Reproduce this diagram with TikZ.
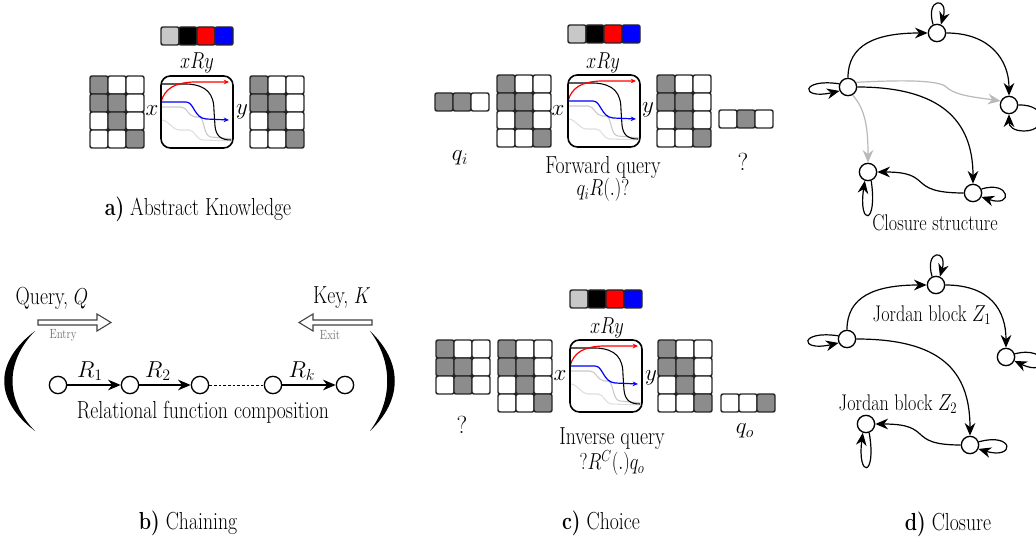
\documentclass[tikz,border=0pt]{standalone}
\usepackage{graphicx}
\usetikzlibrary{arrows.meta}
\definecolor{cgray}{RGB}{140,140,140}
\definecolor{lgray}{RGB}{200,200,200}
\definecolor{llgray}{RGB}{222,222,222}
\definecolor{egray}{RGB}{185,185,185}
\definecolor{cred}{RGB}{255,0,0}
\definecolor{cblue}{RGB}{0,0,255}
\newcommand{\nt}[1]{\scalebox{0.8}[1]{#1}}
\tikzset{
  cell/.style={draw=black!85,line width=1.1pt,rounded corners=1.5pt},
  rbox/.style={draw,line width=1.2pt,rounded corners=7pt},
  txt/.style={font=\fontsize{18.5}{21}\selectfont,inner sep=0pt},
  dtxt/.style={font=\fontsize{17}{19}\selectfont,inner sep=0pt},
  smalltxt/.style={font=\fontsize{10}{11}\selectfont,inner sep=0pt,text=black!55},
  circ/.style={circle,draw,line width=1pt,minimum size=13pt,inner sep=0pt,fill=white},
  arr/.style={-{Stealth[length=9.5pt,width=8pt]},line width=0.9pt},
  garr/.style={arr,draw=egray},
  curv/.style={line width=0.8pt},
  cur/.style={-{Stealth[length=4pt,width=3.5pt]},line width=0.9pt},
  hollow/.style={draw=black!75,line width=0.8pt,fill=white},
}
\newcommand{\gridcells}[3]{\foreach \c/\r/\f in {#3}{\draw[cell,fill=\f] ({#1+18*\c},{#2+18*\r}) rectangle ++(18,18);}}
\newcommand{\relgrid}[2]{\gridcells{#1}{#2}{0/0/cgray,1/0/white,2/0/white,0/1/cgray,1/1/cgray,2/1/white,0/2/white,1/2/cgray,2/2/white,0/3/white,1/3/white,2/3/cgray}}
\newcommand{\colorbar}[2]{\gridcells{#1}{#2}{0/0/lgray,1/0/black,2/0/cred,3/0/cblue}}
\newcommand{\relbox}[2]{%
\begin{scope}[shift={(#1,#2)}]
\draw[curv,draw=llgray] (0,44) .. controls (8,44) and (10,53) .. (18,54) -- (28,54) .. controls (34,54) and (34,63) .. (42,64) -- (72,65);
\draw[curv,draw=lgray] (0,31) -- (20,31) .. controls (26,31) and (27,40) .. (34,41) -- (38,41) .. controls (44,42) and (42,60) .. (50,61) -- (72,63);
\draw[curv,draw=black] (0,8) -- (26,8) .. controls (46,9) and (53,18) .. (53,35) -- (54,50) .. controls (55,60) and (60,64) .. (70,64);
\draw[cur,draw=cred] (0,26) .. controls (4,12) and (14,7) .. (32,6) -- (68,6);
\draw[cur,draw=cblue] (0,26) -- (25,26) .. controls (33,26) and (33,42) .. (45,43) -- (68,44);
\draw[rbox] (0,0) rectangle (72,72);
\end{scope}}
\begin{document}
\begin{tikzpicture}[x=0.75pt,y=-0.75pt]
\useasboundingbox (0,0) rectangle (1036,541);
% ---------- panel a
\colorbar{161}{27}
\node[txt] (axry) at (197,63) {\nt{$xRy$}};
\relgrid{90}{76}
\node[txt] (ax) at (152,111) {$x$};
\relbox{161}{76}
\node[txt] (ay) at (242,112) {$y$};
\relgrid{250}{76}
\node[txt] (acap) at (198,209) {\nt{\textbf{a)} Abstract Knowledge}};
% ---------- panel c top
\colorbar{568}{25}
\node[txt] (cxry1) at (603,63) {\nt{$xRy$}};
\gridcells{435}{93}{0/0/cgray,1/0/cgray,2/0/white}
\relgrid{497}{75}
\node[txt] (cx1) at (558,111) {$x$};
\relbox{568}{75}
\node[txt] (cy1) at (648,110) {$y$};
\relgrid{657}{75}
\gridcells{719}{110}{0/0/white,1/0/cgray,2/0/white}
\node[txt] (cqi) at (460,158) {$q_i$};
\node[txt] (cfq) at (603,167) {\nt{Forward query}};
\node[txt] (cfqm) at (603,190) {\nt{$q_iR(.)?$}};
\node[txt] (cq1) at (743,162) {?};
% ---------- panel c bottom
\colorbar{570}{290}
\node[txt] (cxry2) at (607,328) {\nt{$xRy$}};
\gridcells{436}{340}{0/0/cgray,1/0/white,2/0/white,0/1/cgray,1/1/cgray,2/1/white,0/2/white,1/2/cgray,2/2/white}
\relgrid{498}{340}
\node[txt] (cx2) at (560,376) {$x$};
\relbox{570}{340}
\node[txt] (cy2) at (651,378) {$y$};
\relgrid{658}{340}
\gridcells{721}{394}{0/0/white,1/0/white,2/0/cgray}
\node[txt] (cq2) at (462,425) {?};
\node[txt] (ciq) at (612,439) {\nt{Inverse query}};
\node[txt] (ciqm) at (612,463) {\nt{$?R^C(.)q_o$}};
\node[txt] (cqo) at (745,431) {$q_o$};
% ---------- panel b
\node[txt] (bq) at (52,298) {\nt{Query, $Q$}};
\node[txt] (bk) at (342,298) {\nt{Key, $K$}};
\draw[hollow] (38,320) -- (97,320) -- (97,314) -- (111,322.5) -- (97,331) -- (97,325) -- (38,325) -- cycle;
\draw[hollow] (372,320) -- (313,320) -- (313,314) -- (299,322.5) -- (313,331) -- (313,325) -- (372,325) -- cycle;
\node[smalltxt] (bentry) at (63,335) {\nt{Entry}};
\node[smalltxt] (bexit) at (330,335) {\nt{Exit}};
\fill (35,331) .. controls (-6,362) and (-6,400) .. (35,431) .. controls (5,400) and (5,362) .. (35,331) -- cycle;
\fill (370,331) .. controls (403,362) and (403,400) .. (370,431) .. controls (393,400) and (393,362) .. (370,331) -- cycle;
\node[circ] (b1) at (58,385) {};
\node[circ] (b2) at (130,385) {};
\node[circ] (b3) at (200,385) {};
\node[circ] (b4) at (273,385) {};
\node[circ] (b5) at (345,385) {};
\draw[arr] (b1) -- (b2);
\draw[arr] (b2) -- (b3);
\draw[line width=0.6pt,dash pattern=on 2pt off 1.5pt] (b3) -- (b4);
\draw[arr] (b4) -- (b5);
\node[txt] (br1) at (90,371) {$R_1$};
\node[txt] (br2) at (158,371) {$R_2$};
\node[txt] (brk) at (302,371) {$R_k$};
\node[txt] (bcomp) at (203,412) {\nt{Relational function composition}};
% ---------- panel d top
\node[circ] (A) at (848,87) {};
\node[circ] (B) at (937,33) {};
\node[circ] (C) at (1009,105) {};
\node[circ] (D) at (868,172) {};
\node[circ] (E) at (973,193) {};
\draw[garr] (A.30) .. controls (900,80) and (935,80) .. (945,86) .. controls (955,96) and (975,97) .. (C.155);
\draw[garr] (A.-60) .. controls (866,110) and (868,130) .. (D.north);
\draw[arr] (A.north) .. controls (848,45) and (875,33) .. (B.west);
\draw[arr] (B.east) .. controls (990,33) and (1009,60) .. (C.north);
\draw[arr] (A.east) .. controls (940,87) and (973,120) .. (E.north);
\draw[arr] (E.west) .. controls (905,193) and (935,172) .. (D.east);
\draw[arr] (B.115) .. controls (925,-3) and (949,-3) .. (B.65);
\draw[arr] (A.160) .. controls (800,78) and (800,100) .. (A.205);
\draw[arr] (C.0) .. controls (1048,104) and (1048,131) .. (1024,131) .. controls (1013,131) and (1009,126) .. (C.south);
\draw[arr] (E.25) .. controls (1010,180) and (1014,208) .. (E.-25);
\draw[arr] (D.-70) .. controls (878,226) and (858,226) .. (D.-110);
\node[dtxt] (dcs) at (935,223) {\nt{Closure structure}};
% ---------- panel d bottom
\node[circ] (A2) at (847,339) {};
\node[circ] (B2) at (936,285) {};
\node[circ] (C2) at (1006,357) {};
\node[circ] (D2) at (866,424) {};
\node[circ] (E2) at (970,445) {};
\draw[arr] (A2.north) .. controls (847,297) and (874,285) .. (B2.west);
\draw[arr] (B2.east) .. controls (990,285) and (1006,310) .. (C2.north);
\draw[arr] (A2.east) .. controls (940,339) and (970,370) .. (E2.north);
\draw[arr] (E2.west) .. controls (905,445) and (935,424) .. (D2.east);
\draw[arr] (B2.115) .. controls (924,249) and (948,249) .. (B2.65);
\draw[arr] (A2.160) .. controls (799,330) and (799,352) .. (A2.205);
\draw[arr] (C2.20) .. controls (1050,345) and (1050,378) .. (C2.-25);
\draw[arr] (E2.20) .. controls (1015,432) and (1015,460) .. (E2.-25);
\draw[arr] (D2.-70) .. controls (877,478) and (857,478) .. (D2.-110);
\node[dtxt] (dz1) at (932,315) {\nt{Jordan block $Z_1$}};
\node[dtxt] (dz2) at (898,404) {\nt{Jordan block $Z_2$}};
% ---------- captions
\node[txt] (bcap) at (188,523) {\nt{\textbf{b)} Chaining}};
\node[txt] (ccap) at (601,523) {\nt{\textbf{c)} Choice}};
\node[txt] (dcap) at (948,524) {\nt{\textbf{d)} Closure}};
\end{tikzpicture}
\end{document}
